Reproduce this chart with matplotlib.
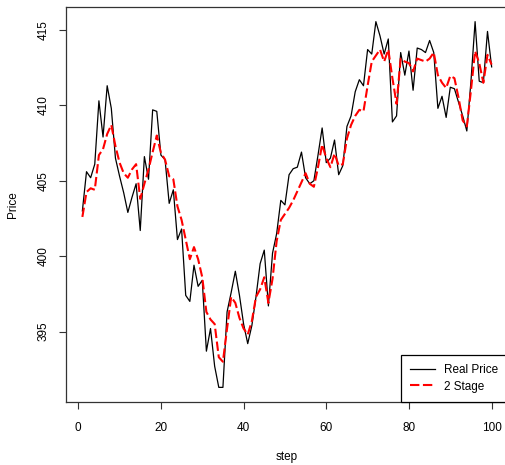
import numpy as np
import matplotlib
matplotlib.use("Agg")
import matplotlib.pyplot as plt

plt.rcParams['font.family'] = ['Liberation Sans', 'DejaVu Sans']

# observed price vs. two-stage model fit, one value per step
step = np.arange(1, 101)

real_price = [
    403.0, 405.6, 405.2, 406.1, 410.3, 407.9, 411.3, 409.8, 406.5, 405.3,
    404.2, 402.9, 403.9, 404.8, 401.7, 406.6, 405.1, 409.7, 409.6, 406.7,
    406.4, 403.5, 404.4, 401.1, 401.8, 397.4, 397.0, 399.4, 398.0, 398.4,
    393.7, 395.2, 392.7, 391.3, 391.3, 396.3, 397.6, 399.0, 397.4, 395.5,
    394.2, 395.4, 397.3, 399.5, 400.4, 396.7, 400.2, 401.5, 403.7, 403.4,
    405.4, 405.8, 405.9, 406.9, 405.2, 404.8, 405.0, 406.7, 408.5, 406.2,
    406.5, 407.7, 405.4, 406.0, 408.6, 409.3, 410.9, 411.7, 411.3, 413.7,
    413.4, 415.55, 414.6, 413.4, 414.4, 408.9, 409.3, 413.5, 412.0, 413.6,
    411.0, 413.8, 413.7, 413.5, 414.3, 413.5, 409.8, 410.6, 409.2, 411.2,
    411.1, 410.2, 409.3, 408.3, 411.6, 415.55, 411.6, 411.5, 414.9, 412.55,
]

two_stage = [
    402.6, 404.25, 404.5, 404.4, 406.7, 407.1, 408.1, 408.7, 407.3, 406.2,
    405.5, 405.2, 405.75, 406.1, 403.8, 404.8, 405.75, 406.9, 408.0, 406.85,
    406.4, 405.3, 405.1, 403.3, 402.4, 401.1, 399.8, 400.6, 399.8, 398.6,
    396.3, 395.8, 395.5, 393.3, 393.0, 395.2, 397.3, 396.9, 395.9, 395.2,
    394.8, 395.7, 397.3, 397.8, 398.6, 396.9, 398.5, 401.0, 402.4, 402.8,
    403.2, 403.7, 404.3, 404.9, 405.5, 404.8, 404.6, 405.9, 407.4, 406.5,
    405.9, 406.8, 406.0, 406.1, 407.8, 408.7, 409.3, 409.7, 409.6, 411.3,
    412.9, 413.3, 413.7, 412.9, 413.7, 411.8, 410.1, 413.1, 412.9, 412.8,
    412.25, 413.1, 413.0, 412.9, 413.1, 413.5, 412.0, 411.5, 411.15, 411.95,
    411.8, 410.5, 409.0, 408.6, 411.0, 413.6, 412.8, 411.5, 413.35, 412.7,
]

x_ticks = [0, 20, 40, 60, 80, 100]
y_ticks = [395, 400, 405, 410, 415]

fig = plt.figure(figsize=(5.05, 4.65), dpi=100)
ax = fig.add_axes([66 / 505, 63 / 465, 442 / 505, 395 / 465])

ax.plot(step, real_price, color='black', lw=0.9, label='Real Price')
ax.plot(step, two_stage, color='red', lw=1.5, dashes=(4.5, 1.7), label='2 Stage')

# 4% padding on both axes, like R's default
def padded(lo, hi):
    d = (hi - lo) * 0.04
    return lo - d, hi + d

ax.set_xlim(*padded(step.min(), step.max()))
ax.set_ylim(*padded(min(min(real_price), min(two_stage)),
                    max(max(real_price), max(two_stage))))

ax.set_xticks(x_ticks)
ax.set_yticks(y_ticks)
ax.set_yticklabels([str(v) for v in y_ticks], rotation=90, va='center')
ax.tick_params(axis='both', length=5, width=0.8, labelsize=8.5, color='#333333')
ax.tick_params(axis='x', pad=9.5)
ax.tick_params(axis='y', pad=6.5)
for s in ax.spines.values():
    s.set_linewidth(0.9)
    s.set_color('#333333')

ax.set_xlabel('step', fontsize=8.5, labelpad=12)
ax.set_ylabel('Price', fontsize=8.5, labelpad=14)

leg = ax.legend(loc='lower right', borderaxespad=0, fontsize=8.5,
                fancybox=False, framealpha=1, edgecolor='black',
                handlelength=2.1, handletextpad=0.8, labelspacing=0.35,
                borderpad=0.8)
leg.get_frame().set_linewidth(0.9)

fig.savefig('out.png', dpi=100, facecolor='white')
